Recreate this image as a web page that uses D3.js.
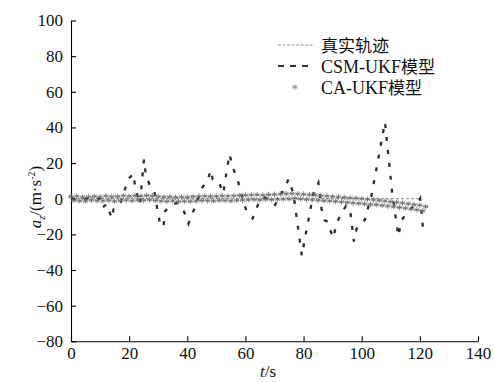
<!DOCTYPE html>
<html>
<head>
<meta charset="utf-8">
<script src="https://cdn.jsdelivr.net/npm/d3@7/dist/d3.min.js"></script>
<style>
  html, body { margin: 0; padding: 0; background: #fff; }
  svg { display: block; }
</style>
</head>
<body>
<svg id="chart" width="494" height="382"></svg>
<script>
// Axis ticks
const xTicks = [0, 20, 40, 60, 80, 100, 120, 140];
const yTicks = [-80, -60, -40, -20, 0, 20, 40, 60, 80, 100];

// Legend labels
const seriesNames = ["真实轨迹", "CSM-UKF模型", "CA-UKF模型"];

// True trajectory (flat at zero)
const truthT = [0, 120.5];
const truthV = [0, 0];

// CSM-UKF estimate: time (s) and acceleration (m/s^2) at turning points
const csmT = [0, 10, 10.8, 12.3, 14, 14.6, 16.9, 18.3, 19.7, 21.4, 22.2, 23.7, 25.1, 25.7, 27.2, 28.7, 29.5, 30.5, 31.8, 32.3,
  34.6, 36.4, 38.6, 40.4, 42.1, 43.5, 45, 46.9, 48.1, 48.7, 50.7, 52.4, 53, 54.5, 55.8, 57.6, 59, 60.4, 62.5, 64.4,
  66, 68, 70.2, 72, 73.6, 74.8, 76.5, 79.4, 80.5, 83.4, 85.1, 86.2, 87.2, 88.3, 90.1, 91.6, 93.1, 94.6, 96, 97.3,
  98.2, 100, 101.1, 102, 103.4, 108, 110.5, 112.6, 113.7, 116.6, 119.5, 120.1, 121.1];
const csmV = [0, 0, -5, -3, -11, -6, -3, 4, 11, 14, 5.5, -3, 22, 14, 7, 4, -4, -13, -16, -7,
  -3.4, -2.4, -6, -14, -7, -1, 6, 10, 16, 11, 10, 3, 10, 25, 17, 9, 0, -7, -11, -3,
  1, 0, -3.4, 2, 6, 11, 3, -32, -22, 3, 9, -6, -12, -13, -22, -13, -8, -4, -6, -24,
  -17, -13, -12, -6, 2, 43, 3, -21, -12, -6, -2, 0, -17];

// CA-UKF estimate sampled every second from t = 0 to 122 s
const caV = [
  1.2, -1.0, 1.4, -1.2, 0.9, -1.3, 1.1, -0.8, 1.3, -1.1,
  1.0, -1.2, 1.5, -0.9, 1.2, -1.4, 1.3, -1.0, 1.6, -0.8,
  1.4, -1.1, 1.7, -0.7, 1.5, -0.9, 1.8, -0.6, 1.6, -1.0,
  1.2, -1.3, 1.0, -1.5, 1.1, -1.2, 0.8, -1.6, 1.0, -1.4,
  0.9, -1.5, 1.2, -1.3, 1.4, -1.0, 1.5, -1.1, 1.3, -1.2,
  1.4, -0.9, 1.6, -1.0, 1.5, -1.2, 1.7, -0.9, 1.8, -0.8,
  2.0, -0.6, 2.1, -0.5, 2.2, -0.7, 2.0, -0.4, 2.3, -0.5,
  2.4, -0.3, 2.6, -0.2, 2.8, -0.1, 2.9, 0.2, 2.7, -0.1,
  2.5, -0.4, 2.2, -0.6, 2.0, -0.9, 1.7, -1.1, 1.5, -1.3,
  1.2, -1.5, 1.0, -1.8, 0.7, -2.1, 0.5, -2.4, 0.3, -2.6,
  0.0, -2.9, -0.3, -3.2, -0.6, -3.4, -0.9, -3.8, -1.3, -4.1,
  -1.6, -4.5, -2.0, -4.9, -2.4, -5.3, -2.8, -5.8, -3.3, -6.2,
  -3.6, -6.8, -4.4];
const caT = caV.map((_, i) => i);

const SERIF = "'Liberation Serif', 'DejaVu Serif', 'Times New Roman', serif";
const CJK = "'Noto Sans CJK SC', 'Noto Sans CJK JP', sans-serif";

const svg = d3.select("#chart");
const x = d3.scaleLinear().domain([0, 140]).range([71, 478]);
const y = d3.scaleLinear().domain([-80, 100]).range([341.3, 20.5]);

// Axes with inward ticks
const xAxis = svg.append("g").attr("transform", `translate(0,${y(-80)})`)
  .call(d3.axisBottom(x).tickValues(xTicks).tickSizeInner(-5).tickSizeOuter(0).tickPadding(6));
const yAxis = svg.append("g").attr("transform", `translate(${x(0)},0)`)
  .call(d3.axisLeft(y).tickValues(yTicks).tickSizeInner(-5).tickSizeOuter(0).tickPadding(8));
[xAxis, yAxis].forEach(g => {
  g.attr("font-family", null).attr("font-size", null);
  g.selectAll("path, line").attr("stroke", "#000").attr("stroke-width", 1.1);
  g.selectAll("text").style("font-family", SERIF).style("font-size", "17px").attr("fill", "#111");
});

// Series: true trajectory
const line = d3.line().x(d => x(d[0])).y(d => y(d[1]));
svg.append("path")
  .datum(truthT.map((t, i) => [t, truthV[i]]))
  .attr("d", line)
  .attr("fill", "none").attr("stroke", "#666").attr("stroke-width", 0.8)
  .attr("stroke-dasharray", "3,2");

// Series: CSM-UKF
svg.append("path")
  .datum(csmT.map((t, i) => [t, csmV[i]]))
  .attr("d", line)
  .attr("fill", "none").attr("stroke", "#2b2b2b").attr("stroke-width", 2.3)
  .attr("stroke-dasharray", "4,9");

// Series: CA-UKF asterisks
const star = "M0,-2.8V2.8M-2.4,-1.4L2.4,1.4M-2.4,1.4L2.4,-1.4M-2.8,0H2.8";
svg.append("g").selectAll("path")
  .data(caT.map((t, i) => [t, caV[i]]))
  .join("path")
  .attr("transform", d => `translate(${x(d[0])},${y(d[1])})`)
  .attr("d", star)
  .attr("fill", "none").attr("stroke", "#707070").attr("stroke-width", 0.85);

// Legend
const lg = svg.append("g");
const rowY = [45, 66, 87];
lg.append("line").attr("x1", 278).attr("x2", 313).attr("y1", rowY[0]).attr("y2", rowY[0])
  .attr("stroke", "#777").attr("stroke-width", 0.8).attr("stroke-dasharray", "3,1.5");
lg.append("line").attr("x1", 278).attr("x2", 312).attr("y1", rowY[1]).attr("y2", rowY[1])
  .attr("stroke", "#333").attr("stroke-width", 2).attr("stroke-dasharray", "6,6");
lg.append("path").attr("transform", `translate(295,${rowY[2]})`).attr("d", star)
  .attr("fill", "none").attr("stroke", "#8a8a8a").attr("stroke-width", 0.8);
seriesNames.forEach((name, i) => {
  const t = lg.append("text").attr("x", 321).attr("y", rowY[i] + 7)
    .style("font-family", SERIF).style("font-size", "18px").attr("fill", "#111");
  const m = name.match(/^([A-Za-z\-]*)(.*)$/);
  if (m[1]) t.append("tspan").text(m[1]);
  t.append("tspan").style("font-family", CJK).style("font-size", "17px").text(m[2]);
});

// Axis titles
const yt = svg.append("text").attr("transform", "translate(41,197) rotate(-90)")
  .attr("text-anchor", "middle").style("font-family", SERIF).style("font-size", "17px").attr("fill", "#111");
yt.append("tspan").style("font-style", "italic").text("a");
yt.append("tspan").style("font-style", "italic").style("font-size", "10px").attr("dy", 4).text("z");
yt.append("tspan").attr("dy", -4).text("/(m·s");
yt.append("tspan").style("font-size", "10px").attr("dy", -6).text("-2");
yt.append("tspan").attr("dy", 6).text(")");

const xt = svg.append("text").attr("x", 268).attr("y", 377).attr("text-anchor", "middle")
  .style("font-family", SERIF).style("font-size", "17px").attr("fill", "#111");
xt.append("tspan").style("font-style", "italic").text("t");
xt.append("tspan").text("/s");
</script>
</body>
</html>
